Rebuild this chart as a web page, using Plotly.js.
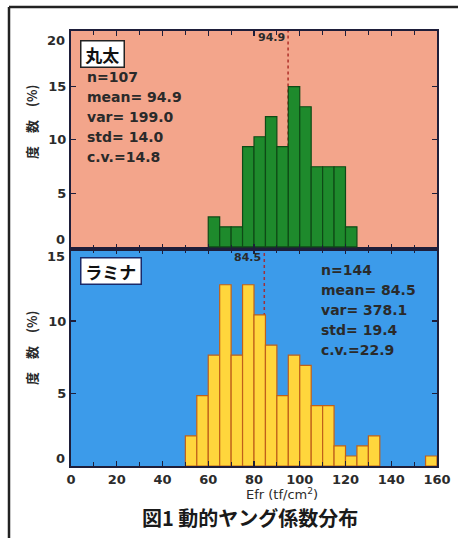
<!DOCTYPE html>
<html>
<head>
<meta charset="utf-8">
<script src="https://cdn.plot.ly/plotly-3.0.1.min.js"></script>
<style>html,body{margin:0;padding:0;background:#fff;}#chart{width:458px;height:538px;}</style>
</head>
<body>
<div id="chart"></div>
<script>
// ---- data ----
var binWidth = 5;
var maruBinStarts = [60, 65, 70, 75, 80, 85, 90, 95, 100, 105, 110, 115, 120];
var maruPercent   = [2.80, 1.87, 1.87, 9.35, 10.28, 12.15, 9.35, 14.95, 13.08, 7.48, 7.48, 7.48, 1.87];
var laminaBinStarts = [50, 55, 60, 65, 70, 75, 80, 85, 90, 95, 100, 105, 110, 115, 120, 125, 130, 155];
var laminaPercent   = [2.08, 4.86, 7.64, 12.50, 7.64, 12.50, 10.42, 8.33, 4.86, 7.64, 6.94, 4.17, 4.17, 1.39, 0.69, 1.39, 2.08, 0.69];
var maruMean = 94.9, laminaMean = 84.5;
var maruName = "丸太", laminaName = "ラミナ";
var maruStats = ["n=107", "mean= 94.9", "var= 199.0", "std= 14.0", "c.v.=14.8"];
var laminaStats = ["n=144", "mean= 84.5", "var= 378.1", "std= 19.4", "c.v.=22.9"];
var xTicks = [0, 20, 40, 60, 80, 100, 120, 140, 160];
var yTicksTopInner = [5, 10, 15];
var yTopEnds = [0, 20];
var yTicksBottomInner = [5, 10];
var yBottomEnds = [0, 15];
var xTitle = "Efr (tf/cm<sup>2</sup>)";
var yTitle = "度　数　(%)";
var caption = "図1 動的ヤング係数分布";

// ---- pixel helpers (plot area: x 71..437, y 31..466) ----
var L = 71, R = 437, T = 31, B = 466;
function px(x){ return (x - L) / (R - L); }
function py(y){ return (B - y) / (B - T); }

var tickFont = {family: "DejaVu Sans, sans-serif", size: 13, color: "#2b2b2b", weight: "bold"};
var frame = "#1e1e3a";

var traces = [
  {type: "bar", x: laminaBinStarts, y: laminaPercent, width: binWidth, offset: 0,
   xaxis: "x", yaxis: "y",
   marker: {color: "#FFD63C", line: {color: "#C0601A", width: 1.2}}, hoverinfo: "x+y"},
  {type: "bar", x: maruBinStarts, y: maruPercent, width: binWidth, offset: 0,
   xaxis: "x2", yaxis: "y2",
   marker: {color: "#1E8A2C", line: {color: "#0E4A16", width: 1.2}}, hoverinfo: "x+y"}
];

var annotations = [];
var statFont = {family: "DejaVu Sans, sans-serif", size: 14, color: "#2a2a2a", weight: "bold"};
var topLines = [77, 97, 117, 137, 157];
var botLines = [270, 290, 310, 330, 350];
maruStats.forEach(function(s, i){
  annotations.push({xref: "paper", yref: "paper", x: px(85), y: py(topLines[i]), xanchor: "left", yanchor: "middle",
    text: s, showarrow: false, font: statFont});
});
laminaStats.forEach(function(s, i){
  annotations.push({xref: "paper", yref: "paper", x: px(319), y: py(botLines[i]), xanchor: "left", yanchor: "middle",
    text: s, showarrow: false, font: statFont});
});
var boxFont = {family: "Noto Sans CJK JP, sans-serif", size: 17, color: "#111", weight: "bold"};
annotations.push({xref: "paper", yref: "paper", x: px(80), y: py(40), xanchor: "left", yanchor: "top",
  text: "&nbsp;" + maruName + "&nbsp;", showarrow: false, font: boxFont, bgcolor: "#ffffff", bordercolor: "#222", borderwidth: 1.5, borderpad: 0});
annotations.push({xref: "paper", yref: "paper", x: px(80), y: py(257), xanchor: "left", yanchor: "top",
  text: "&nbsp;" + laminaName + "&nbsp;", showarrow: false, font: boxFont, bgcolor: "#ffffff", bordercolor: "#1a2a6a", borderwidth: 1.5, borderpad: 0});
var meanFont = {family: "DejaVu Sans, sans-serif", size: 11, color: "#2a2a2a", weight: "bold"};
annotations.push({xref: "x2", yref: "paper", x: maruMean, y: py(38), xanchor: "right", yanchor: "middle",
  text: String(maruMean), showarrow: false, font: meanFont, xshift: -1});
annotations.push({xref: "x", yref: "paper", x: laminaMean, y: py(257), xanchor: "right", yanchor: "middle",
  text: String(laminaMean), showarrow: false, font: meanFont, xshift: -1});
// end tick labels of the y axes, pulled inward as in the reference
yTopEnds.forEach(function(v){
  annotations.push({xref: "paper", yref: "y2", x: px(67), y: v, xanchor: "right", yanchor: "middle",
    yshift: v === 0 ? 7 : -8, text: String(v), showarrow: false, font: tickFont});
});
yBottomEnds.forEach(function(v){
  annotations.push({xref: "paper", yref: "y", x: px(67), y: v, xanchor: "right", yanchor: "middle",
    yshift: v === 0 ? 8 : -8, text: String(v), showarrow: false, font: tickFont});
});
var yTitleFont = {family: "Noto Sans CJK JP, sans-serif", size: 13, color: "#2a2a2a", weight: "bold"};
annotations.push({xref: "paper", yref: "paper", x: px(31), y: py(122), xanchor: "center", yanchor: "middle",
  text: yTitle, textangle: -90, showarrow: false, font: yTitleFont});
annotations.push({xref: "paper", yref: "paper", x: px(31), y: py(348), xanchor: "center", yanchor: "middle",
  text: yTitle, textangle: -90, showarrow: false, font: yTitleFont});
annotations.push({xref: "paper", yref: "paper", x: px(282), y: py(494), xanchor: "center", yanchor: "middle",
  text: xTitle, showarrow: false, font: {family: "DejaVu Sans, sans-serif", size: 13, color: "#2a2a2a"}});
annotations.push({xref: "paper", yref: "paper", x: px(250), y: py(517), xanchor: "center", yanchor: "middle",
  text: caption, showarrow: false, font: {family: "Noto Sans CJK JP, sans-serif", size: 20, color: "#1a1a1a", weight: "bold"}});

var shapes = [
  {type: "rect", xref: "x2 domain", yref: "y2 domain", x0: 0, x1: 1, y0: 0, y1: 1, fillcolor: "#F3A58B", line: {width: 0}, layer: "below"},
  {type: "rect", xref: "x domain", yref: "y domain", x0: 0, x1: 1, y0: 0, y1: 1, fillcolor: "#3C9BEA", line: {width: 0}, layer: "below"},
  {type: "line", xref: "x2", yref: "y2 domain", x0: maruMean, x1: maruMean, y0: 0, y1: 1, line: {color: "#B0302A", width: 1.5, dash: "dot"}, layer: "below"},
  {type: "line", xref: "x", yref: "y domain", x0: laminaMean, x1: laminaMean, y0: 0, y1: 1, line: {color: "#A0303A", width: 1.5, dash: "dot"}, layer: "below"},
  // figure frame lines (top and left)
  {type: "line", xref: "paper", yref: "paper", x0: px(9), x1: px(458), y0: py(7), y1: py(7), line: {color: "#222", width: 2.5}},
  {type: "line", xref: "paper", yref: "paper", x0: px(9), x1: px(9), y0: py(7), y1: py(538), line: {color: "#222", width: 2.5}}
];

var xCommon = {range: [0, 160], tickvals: xTicks, ticks: "inside", ticklen: 5, tickwidth: 1.2, tickcolor: frame,
  minor: {dtick: 10, ticks: "inside", ticklen: 4, tickwidth: 1, tickcolor: frame},
  showline: true, linecolor: frame, linewidth: 2, mirror: "ticks", showgrid: false, zeroline: false,
  tickfont: tickFont, fixedrange: true};
var yCommon = {ticks: "inside", ticklen: 5, tickwidth: 1.2, tickcolor: frame,
  showline: true, linecolor: frame, linewidth: 2, mirror: "ticks", showgrid: false, zeroline: false, tickfont: tickFont};
var layout = {
  width: 458, height: 538,
  margin: {l: L, r: 458 - R, t: T, b: 538 - B, pad: 0},
  paper_bgcolor: "#ffffff", plot_bgcolor: "rgba(0,0,0,0)",
  showlegend: false, bargap: 0,
  xaxis: Object.assign({}, xCommon, {anchor: "y", domain: [0, 1]}),
  xaxis2: Object.assign({}, xCommon, {anchor: "y2", domain: [0, 1], showticklabels: false}),
  yaxis: Object.assign({}, yCommon, {domain: [0, 0.5], range: [0, 15], tickvals: yTicksBottomInner, anchor: "x"}),
  yaxis2: Object.assign({}, yCommon, {domain: [0.5, 1], range: [-0.15, 20.15], tickvals: yTicksTopInner, anchor: "x2"}),
  annotations: annotations,
  shapes: shapes
};
Plotly.newPlot("chart", traces, layout, {displayModeBar: false, staticPlot: true});
</script>
</body>
</html>
